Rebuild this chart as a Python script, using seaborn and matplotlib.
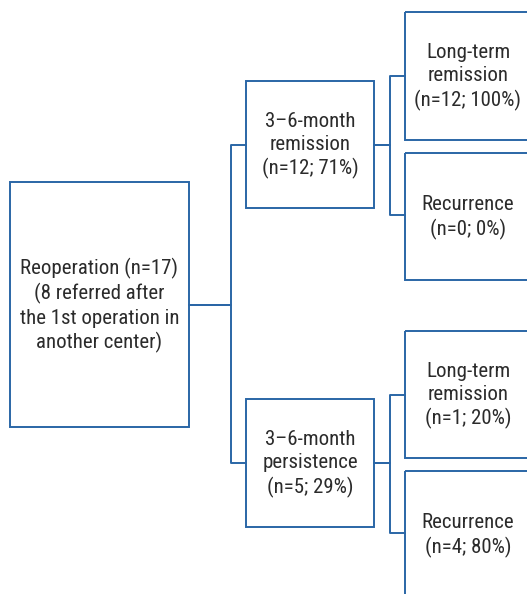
import matplotlib
matplotlib.use("Agg")
import matplotlib.pyplot as plt
import seaborn as sns
import pandas as pd
from matplotlib.patches import Rectangle

sns.set_theme(style="white")
plt.rcParams['font.family'] = ['Roboto Condensed', 'DejaVu Sans']

# ---- data ----
node_labels = [
    "Reoperation (n=17)\n(8 referred after\nthe 1st operation in\nanother center)",
    "3\u20136-month\nremission\n(n=12; 71%)",
    "3\u20136-month\npersistence\n(n=5; 29%)",
    "Long-term\nremission\n(n=12; 100%)",
    "Recurrence\n(n=0; 0%)",
    "Long-term\nremission\n(n=1; 20%)",
    "Recurrence\n(n=4; 80%)",
]
node_counts = [17, 12, 5, 12, 0, 1, 4]
parents = [None, 0, 0, 1, 1, 2, 2]

# ---- layout (pixels, y downward) ----
box_x0 = [10, 246, 246, 405, 405, 405, 405]
box_x1 = [189, 374, 374, 532, 532, 532, 532]
box_y0 = [182, 81, 399, 12, 153, 331, 471]
box_y1 = [427, 208, 527, 140, 280, 458, 598]

color = "#2a66a6"
text_color = "#2b2b2b"

fig = plt.figure(figsize=(5.27, 5.94), dpi=100)
ax = fig.add_axes([0, 0, 1, 1])

for i, lab in enumerate(node_labels):
    ax.add_patch(Rectangle((box_x0[i], box_y0[i]), box_x1[i] - box_x0[i],
                           box_y1[i] - box_y0[i], fill=False, edgecolor=color,
                           linewidth=1.4, clip_on=True))
    cx = (box_x0[i] + box_x1[i]) / 2
    cy = (box_y0[i] + box_y1[i]) / 2 + 1
    if i >= 3:
        cx = 468
    ax.text(cx, cy, lab, ha="center", va="center", fontsize=15,
            color=text_color, linespacing=1.28, fontweight="normal")

# connectors: elbow lines from parent right edge to child left edge
rows = []
seg = 0
for child, par in enumerate(parents):
    if par is None:
        continue
    py = (box_y0[par] + box_y1[par]) / 2
    if par == 0:
        cy = (box_y0[child] + box_y1[child]) / 2
    elif child in (3, 5):
        cy = box_y0[child] + 64
    else:
        cy = box_y0[child] + 62
    mx = box_x0[child] - 15
    pts = [(box_x1[par], py), (mx, py), (mx, cy), (box_x0[child], cy)]
    for (x, y) in pts:
        rows.append({"x": x, "y": y, "seg": seg})
    seg += 1
df = pd.DataFrame(rows)
sns.lineplot(data=df, x="x", y="y", units="seg", estimator=None, sort=False,
             color=color, linewidth=1.4, ax=ax, legend=False)
ax.set_xlim(0, 527)
ax.set_ylim(594, 0)
ax.axis("off")

fig.savefig("out.png", dpi=100)
